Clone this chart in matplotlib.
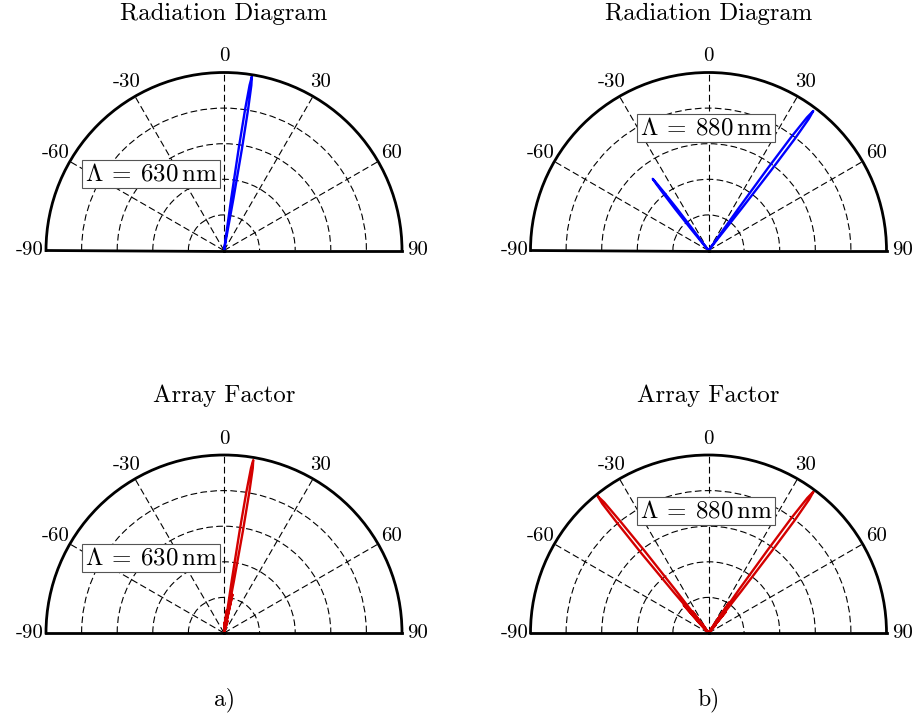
import matplotlib
matplotlib.use("Agg")
import matplotlib.pyplot as plt

# ── Style ─────────────────────────────────────────────────────────────────────
plt.rcParams["font.family"] = "serif"
plt.rcParams["font.serif"] = ["cmr10", "DejaVu Serif"]
plt.rcParams["mathtext.fontset"] = "cm"
plt.rcParams["axes.formatter.use_mathtext"] = True

BLUE = "#0000ff"
RED = "#d40000"

# ── Data: polar patterns (theta in degrees, normalised magnitude) ─────────────
THETA_TICKS = [-90, -60, -30, 0, 30, 60, 90]
THETA_LABELS = ["-90", "-60", "-30", "0", "30", "60", "90"]
R_TICKS = [0.2, 0.4, 0.6, 0.8, 1.0]

# radiation diagram, period 630 nm
rad630_theta = [7.6, 7.9, 8.2, 8.5, 8.8, 9.1, 9.4, 9.7, 10.0, 10.3, 10.6]
rad630_r     = [0.0, 0.30, 0.58, 0.80, 0.94, 0.99, 0.94, 0.80, 0.58, 0.30, 0.0]

# radiation diagram, period 880 nm (side lobe + main lobe)
rad880_theta = [-39.6, -39.2, -38.8, -38.4, -38.1, -37.9, -37.7, -37.4, -37.0, -36.6, -36.2,
                35.1, 35.5, 35.8, 36.1, 36.5, 36.9, 37.3, 37.7, 38.0, 38.3, 38.7]
rad880_r     = [0.0, 0.15, 0.30, 0.41, 0.48, 0.51, 0.48, 0.41, 0.30, 0.15, 0.0,
                0.0, 0.30, 0.57, 0.79, 0.93, 0.98, 0.93, 0.79, 0.57, 0.30, 0.0]

# array factor, period 630 nm (small side lobes around the main beam)
af630_theta = [2.0, 3.5, 5.0,
               5.5, 6.4, 7.2, 7.8,
               8.1, 8.4, 8.7, 9.0, 9.3, 9.6, 9.9, 10.2, 10.5, 10.8, 11.1,
               11.5, 12.4, 13.3,
               14.0, 16.0, 18.0]
af630_r     = [0.0, 0.06, 0.0,
               0.0, 0.11, 0.13, 0.0,
               0.0, 0.30, 0.58, 0.80, 0.94, 0.985, 0.94, 0.80, 0.58, 0.30, 0.0,
               0.0, 0.22, 0.0,
               0.0, 0.07, 0.0]

# array factor, period 880 nm
af880_theta = [-44.5, -43.0, -41.6, -40.8,
               -40.9, -40.5, -40.1, -39.7, -39.4, -39.0, -38.6, -38.3, -37.9, -37.5, -37.1,
               -37.2, -36.4, -35.6, -34.0, -32.5,
               31.5, 33.0, 34.3, 34.9,
               34.7, 35.1, 35.5, 35.8, 36.2, 36.6, 37.0, 37.4, 37.7, 38.1, 38.5,
               38.3, 39.2, 40.0, 41.5, 43.0]
af880_r     = [0.0, 0.08, 0.21, 0.0,
               0.0, 0.30, 0.58, 0.80, 0.94, 0.99, 0.94, 0.80, 0.58, 0.30, 0.0,
               0.0, 0.15, 0.0, 0.06, 0.0,
               0.0, 0.07, 0.21, 0.0,
               0.0, 0.30, 0.58, 0.80, 0.94, 0.99, 0.94, 0.80, 0.58, 0.30, 0.0,
               0.0, 0.15, 0.0, 0.06, 0.0]


# ── Helpers ───────────────────────────────────────────────────────────────────
def half_polar(fig, cx, cy, radius):
    """Upper half-disc polar axes centred at pixel (cx, cy) with given radius.

    The half wedge ends up at half the axes box size, centred in it, so the
    box is made twice as large around the middle of the half disc.
    """
    W, H = fig.get_size_inches() * fig.dpi
    mid_y = cy - radius / 2
    rect = [(cx - 2 * radius) / W, (H - mid_y - radius) / H,
            4 * radius / W, 2 * radius / H]
    ax = fig.add_axes(rect, projection="polar")
    ax.set_theta_zero_location("N")
    ax.set_theta_direction(-1)
    ax.set_thetamin(-90)
    ax.set_thetamax(90)
    ax.set_rlim(0, 1)
    ax.set_rticks(R_TICKS)
    ax.set_yticklabels([])
    ax.set_thetagrids(THETA_TICKS, THETA_LABELS, fontsize=15)
    ax.tick_params(axis="x", pad=1)
    ax.grid(True, color="black", linestyle=(0, (6, 3)), linewidth=0.8)
    for name in ("polar", "start", "end"):
        ax.spines[name].set_linewidth(2.0)
        ax.spines[name].set_color("black")
    ax.spines["inner"].set_visible(False)
    return ax


def draw_panel(fig, cx, cy, theta, r, color, title, period, box_xy):
    W, H = fig.get_size_inches() * fig.dpi
    ax = half_polar(fig, cx, cy, 178)
    ax.plot([t * 3.141592653589793 / 180 for t in theta], r,
            color=color, linewidth=1.7, solid_joinstyle="round")
    fig.text(cx / W, 1 - (cy - 237) / H, title,
             ha="center", va="center", fontsize=17.8)
    fig.text(box_xy[0] / W, 1 - box_xy[1] / H,
             rf"$\Lambda\:=\:{period}\,\mathrm{{nm}}$",
             ha="center", va="center", fontsize=18,
             bbox=dict(boxstyle="square,pad=0.12", facecolor="white",
                       edgecolor="#555555", linewidth=0.8))
    return ax


# ── Figure ────────────────────────────────────────────────────────────────────
fig = plt.figure(figsize=(9.22, 7.2), dpi=100)

draw_panel(fig, 224, 250.5, rad630_theta, rad630_r, BLUE,
           "Radiation Diagram", 630, (151, 174))
draw_panel(fig, 708.5, 250.5, rad880_theta, rad880_r, BLUE,
           "Radiation Diagram", 880, (706, 128))
draw_panel(fig, 224, 633, af630_theta, af630_r, RED,
           "Array Factor", 630, (151, 558))
draw_panel(fig, 708.5, 633, af880_theta, af880_r, RED,
           "Array Factor", 880, (706, 511))

fig.text(224 / 922, 1 - 700 / 720, "a)", ha="center", va="center", fontsize=17)
fig.text(708 / 922, 1 - 700 / 720, "b)", ha="center", va="center", fontsize=17)

fig.savefig("out.png", dpi=100)
